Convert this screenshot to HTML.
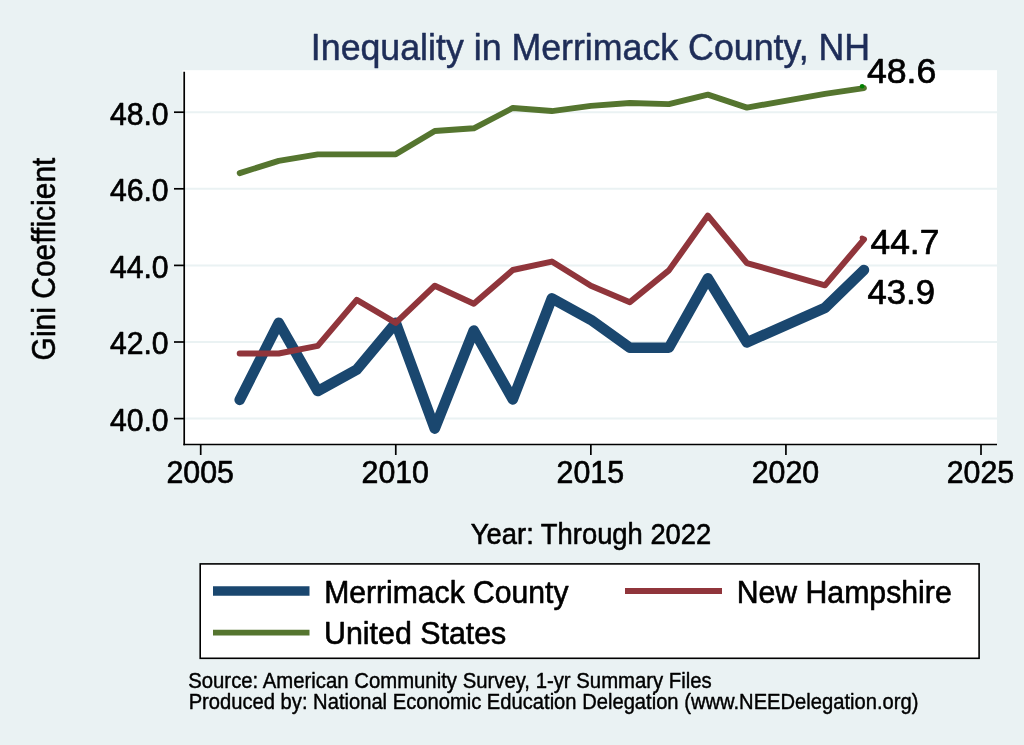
<!DOCTYPE html>
<html><head><meta charset="utf-8"><style>
html,body{margin:0;padding:0;background:#eaf2f3;}
svg{display:block;will-change:transform;}
text{font-family:"Liberation Sans",sans-serif;}
</style></head><body>
<svg width="1024" height="745" viewBox="0 0 1024 745">
<rect x="0" y="0" width="1024" height="745" fill="#eaf2f3"/>
<rect x="182.5" y="70.2" width="814.5" height="375" fill="#ffffff"/>
<g stroke="#eaf2f3" stroke-width="2"><line x1="185" y1="418.60" x2="997" y2="418.60"/><line x1="185" y1="342.00" x2="997" y2="342.00"/><line x1="185" y1="265.40" x2="997" y2="265.40"/><line x1="185" y1="188.80" x2="997" y2="188.80"/><line x1="185" y1="112.20" x2="997" y2="112.20"/></g>
<g stroke="#000" stroke-width="1.7" fill="none">
<line x1="184.2" y1="71.8" x2="184.2" y2="445.3"/>
<line x1="183.4" y1="444.5" x2="997" y2="444.5"/>
<line x1="174" y1="418.60" x2="184.3" y2="418.60"/><line x1="174" y1="342.00" x2="184.3" y2="342.00"/><line x1="174" y1="265.40" x2="184.3" y2="265.40"/><line x1="174" y1="188.80" x2="184.3" y2="188.80"/><line x1="174" y1="112.20" x2="184.3" y2="112.20"/><line x1="200.70" y1="444.5" x2="200.70" y2="455" /><line x1="395.77" y1="444.5" x2="395.77" y2="455" /><line x1="590.85" y1="444.5" x2="590.85" y2="455" /><line x1="785.92" y1="444.5" x2="785.92" y2="455" /><line x1="981.00" y1="444.5" x2="981.00" y2="455" />
</g>
<g fill="none" stroke-linejoin="round" stroke-linecap="round">
<polyline points="239.71,399.83 278.73,322.85 317.75,391.02 356.76,369.58 395.77,322.85 434.79,428.56 473.81,330.51 512.82,399.45 551.84,298.34 590.85,319.79 629.87,347.75 668.88,347.75 707.89,278.42 746.91,342.38 824.94,307.91 863.95,270.00" stroke="#1a476f" stroke-width="10.6"/>
<polyline points="239.71,353.49 278.73,353.49 317.75,345.83 356.76,299.87 395.77,322.85 434.79,285.70 473.81,303.70 512.82,270.00 551.84,261.57 590.85,285.70 629.87,302.17 668.88,270.38 707.89,215.61 746.91,263.10 824.94,285.32 863.95,239.36" stroke="#90353b" stroke-width="6"/>
<polyline points="239.71,173.10 278.73,160.84 317.75,154.33 356.76,154.33 395.77,154.33 434.79,130.97 473.81,128.29 512.82,107.99 551.84,111.05 590.85,105.88 629.87,103.01 668.88,104.16 707.89,94.58 746.91,107.60 824.94,93.82 863.95,88.07" stroke="#55752f" stroke-width="5.9"/>
</g>
<circle cx="862.1" cy="86.3" r="2.3" fill="#008000"/>
<circle cx="862" cy="238" r="2.4" fill="#90353b"/>
<text transform="translate(168.64,430.90) scale(1,1.0400)" font-size="30.18" fill="#000" stroke="#000" stroke-width="0.65" stroke-linejoin="round" text-anchor="end">40.0</text><text transform="translate(168.64,354.30) scale(1,1.0400)" font-size="30.18" fill="#000" stroke="#000" stroke-width="0.65" stroke-linejoin="round" text-anchor="end">42.0</text><text transform="translate(168.64,277.70) scale(1,1.0400)" font-size="30.18" fill="#000" stroke="#000" stroke-width="0.65" stroke-linejoin="round" text-anchor="end">44.0</text><text transform="translate(168.64,201.10) scale(1,1.0400)" font-size="30.18" fill="#000" stroke="#000" stroke-width="0.65" stroke-linejoin="round" text-anchor="end">46.0</text><text id="y48" transform="translate(168.64,124.50) scale(1,1.0400)" font-size="30.18" fill="#000" stroke="#000" stroke-width="0.65" stroke-linejoin="round" text-anchor="end">48.0</text><text id="x2005" transform="translate(200.17,482.60) scale(1,1.0200)" font-size="30.32" fill="#000" stroke="#000" stroke-width="0.65" stroke-linejoin="round" text-anchor="middle">2005</text><text transform="translate(395.25,482.60) scale(1,1.0200)" font-size="30.32" fill="#000" stroke="#000" stroke-width="0.65" stroke-linejoin="round" text-anchor="middle">2010</text><text transform="translate(590.32,482.60) scale(1,1.0200)" font-size="30.32" fill="#000" stroke="#000" stroke-width="0.65" stroke-linejoin="round" text-anchor="middle">2015</text><text transform="translate(785.40,482.60) scale(1,1.0200)" font-size="30.32" fill="#000" stroke="#000" stroke-width="0.65" stroke-linejoin="round" text-anchor="middle">2020</text><text transform="translate(980.47,482.60) scale(1,1.0200)" font-size="30.32" fill="#000" stroke="#000" stroke-width="0.65" stroke-linejoin="round" text-anchor="middle">2025</text>
<text id="title" transform="translate(310.83,59.80) scale(1,1.0341)" font-size="35.74" fill="#1e2d58" stroke="#1e2d58" stroke-width="0.50" stroke-linejoin="round" text-anchor="start">Inequality in Merrimack County, NH</text>
<text id="ytitle" transform="translate(54.80,360.40) rotate(-90) scale(1,1.1200)" font-size="30.00" fill="#000" stroke="#000" stroke-width="0.50" stroke-linejoin="round">Gini Coefficient</text>
<text id="xtitle" transform="translate(591.07,543.80) scale(1,1.1001)" font-size="27.37" fill="#000" stroke="#000" stroke-width="0.55" stroke-linejoin="round" text-anchor="middle">Year: Through 2022</text>
<text id="lab486" transform="translate(866.89,83.10) scale(1,0.9850)" font-size="35.68" fill="#000" stroke="#000" stroke-width="0.70" stroke-linejoin="round" text-anchor="start">48.6</text>
<text id="lab447" transform="translate(870.53,253.60) scale(1,0.9850)" font-size="35.35" fill="#000" stroke="#000" stroke-width="0.70" stroke-linejoin="round" text-anchor="start">44.7</text>
<text id="lab439" transform="translate(867.49,303.80) scale(1,0.9850)" font-size="34.70" fill="#000" stroke="#000" stroke-width="0.70" stroke-linejoin="round" text-anchor="start">43.9</text>
<rect x="200.2" y="563.9" width="778.9" height="94.4" fill="#fff" stroke="#000" stroke-width="1.6"/>
<line x1="213" y1="591" x2="309.5" y2="591" stroke="#1a476f" stroke-width="9.7"/>
<line x1="625" y1="591" x2="722" y2="591" stroke="#90353b" stroke-width="5.9"/>
<line x1="213" y1="632.6" x2="309.5" y2="632.6" stroke="#55752f" stroke-width="5.8"/>
<text id="Merr" transform="translate(324.20,603.00) scale(1,1.0400)" font-size="30.13" fill="#000" stroke="#000" stroke-width="0.60" stroke-linejoin="round" text-anchor="start">Merrimack County</text>
<text id="NH" transform="translate(736.65,602.80) scale(1,1.0400)" font-size="30.24" fill="#000" stroke="#000" stroke-width="0.60" stroke-linejoin="round" text-anchor="start">New Hampshire</text>
<text id="US" transform="translate(324.06,643.70) scale(1,1.0400)" font-size="30.36" fill="#000" stroke="#000" stroke-width="0.60" stroke-linejoin="round" text-anchor="start">United States</text>
<text id="src" transform="translate(188.22,687.80) scale(1,1.0600)" font-size="20.34" fill="#000" stroke="#000" stroke-width="0.40" stroke-linejoin="round" text-anchor="start">Source: American Community Survey, 1-yr Summary Files</text>
<text id="prod" transform="translate(188.66,708.60) scale(1,1.0600)" font-size="20.18" fill="#000" stroke="#000" stroke-width="0.40" stroke-linejoin="round" text-anchor="start">Produced by: National Economic Education Delegation (www.NEEDelegation.org)</text>
</svg>
</body></html>
